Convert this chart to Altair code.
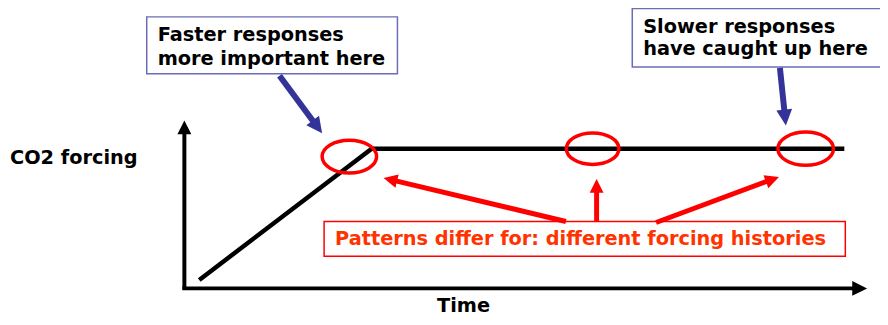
import math
import altair as alt
import pandas as pd

# ---- data (coordinates in the diagram's own frame: x = time axis, y = forcing, top-down) ----
# forcing history curve: linear ramp then constant
curve_x = [201, 375, 852]
curve_y = [281, 148.5, 148.5]

# arrows: axes, two blue callout arrows, three red arrows
arrow_x0 = [186, 184, 282, 787, 571, 602, 662]
arrow_y0 = [291, 289.5, 75, 67, 222, 222, 223]
arrow_x1 = [186, 875, 325, 793, 387, 602, 786]
arrow_y1 = [120, 289.5, 133, 125, 178, 179, 177]
arrow_color = ["black", "black", "#333399", "#333399", "#ff0000", "#ff0000", "#ff0000"]
arrow_width = [4, 4, 6, 6, 5, 5, 5]
arrow_head = [14, 15, 16, 16, 14, 14, 14]

# highlighted regions (ellipses)
ell_x = [352.5, 598, 813]
ell_y = [156.5, 148.5, 148.5]
ell_rx = [27.5, 26.5, 28]

# text boxes
box_x0 = [148, 638, 327]
box_x1 = [401, 900, 853]
box_y0 = [15.5, 7, 222]
box_y1 = [73, 66, 257]
box_stroke = ["#6b6bb8", "#6b6bb8", "#ff0000"]

# labels
labels = ["CO2 forcing", "Time", "Faster responses", "more important here",
          "Slower responses", "have caught up here",
          "Patterns differ for: different forcing histories"]
label_x = [10, 441, 159, 159, 649, 649, 338]
label_y = [164, 313, 40, 64, 32, 54, 246]
label_color = ["black", "black", "black", "black", "black", "black", "#ff3300"]

# ---- build tables ----
curve = pd.DataFrame({"x": curve_x, "y": curve_y})

rows = []
for x0, y0, x1, y1, c, w, h in zip(arrow_x0, arrow_y0, arrow_x1, arrow_y1,
                                   arrow_color, arrow_width, arrow_head):
    dx, dy = x1 - x0, y1 - y0
    n = math.hypot(dx, dy)
    ux, uy = dx / n, dy / n
    ang = math.degrees(math.atan2(dx, -dy)) % 360
    rows.append({"x0": x0, "y0": y0, "x1": x1, "y1": y1,
                 "xs": x1 - ux * h * 0.75, "ys": y1 - uy * h * 0.75,
                 "c": c, "w": w, "hs": (2 * h) ** 2, "ang": ang})
arrows = pd.DataFrame(rows)

ells = pd.DataFrame({"x": ell_x, "y": ell_y, "s": [(2 * r) ** 2 for r in ell_rx]})
boxes = pd.DataFrame({"x0": box_x0, "x1": box_x1, "y0": box_y0, "y1": box_y1, "c": box_stroke})
texts = pd.DataFrame({"t": labels, "x": label_x, "y": label_y, "c": label_color})

XS = alt.Scale(domain=[8, 888], nice=False, zero=False)
YS = alt.Scale(domain=[8, 325], nice=False, zero=False, reverse=True)


def X(f):
    return alt.X(f, type="quantitative", scale=XS, axis=None)


def Y(f):
    return alt.Y(f, type="quantitative", scale=YS, axis=None)


HEAD = "M0,0 L0.5,1 L-0.5,1 Z"
ELL = "M-1,0 A1,0.6 0 1,0 1,0 A1,0.6 0 1,0 -1,0 Z"

box_layer = alt.Chart(boxes).mark_rect(fill="white", strokeWidth=1.5).encode(
    x=X("x0"), x2="x1", y=Y("y0"), y2="y1",
    stroke=alt.Stroke("c:N", scale=None))

curve_layer = alt.Chart(curve).mark_line(
    color="black", strokeWidth=4.5, strokeCap="butt", strokeJoin="miter").encode(
    x=X("x"), y=Y("y"))

shaft_layer = alt.Chart(arrows).mark_rule(strokeCap="butt").encode(
    x=X("x0"), y=Y("y0"), x2="xs", y2="ys",
    color=alt.Color("c:N", scale=None),
    strokeWidth=alt.StrokeWidth("w:Q", scale=None))

head_layer = alt.Chart(arrows).mark_point(
    shape=HEAD, filled=True, opacity=1, strokeWidth=0).encode(
    x=X("x1"), y=Y("y1"),
    color=alt.Color("c:N", scale=None),
    size=alt.Size("hs:Q", scale=None),
    angle=alt.Angle("ang:Q", scale=None))

ell_layer = alt.Chart(ells).mark_point(
    shape=ELL, filled=False, color="#ff0000", strokeWidth=3.5, opacity=1).encode(
    x=X("x"), y=Y("y"), size=alt.Size("s:Q", scale=None))

text_layer = alt.Chart(texts).mark_text(
    align="left", baseline="alphabetic", font="DejaVu Sans",
    fontWeight="bold", fontSize=19.5).encode(
    x=X("x"), y=Y("y"), text="t:N",
    color=alt.Color("c:N", scale=None))

chart = alt.layer(box_layer, curve_layer, shaft_layer, head_layer, ell_layer, text_layer).properties(
    width=880, height=317, padding=0,
    autosize=alt.AutoSizeParams(type="none"),
    background="white",
).configure_view(strokeWidth=0)

chart.save("out.html", embed_options={"renderer": "svg", "actions": False})
